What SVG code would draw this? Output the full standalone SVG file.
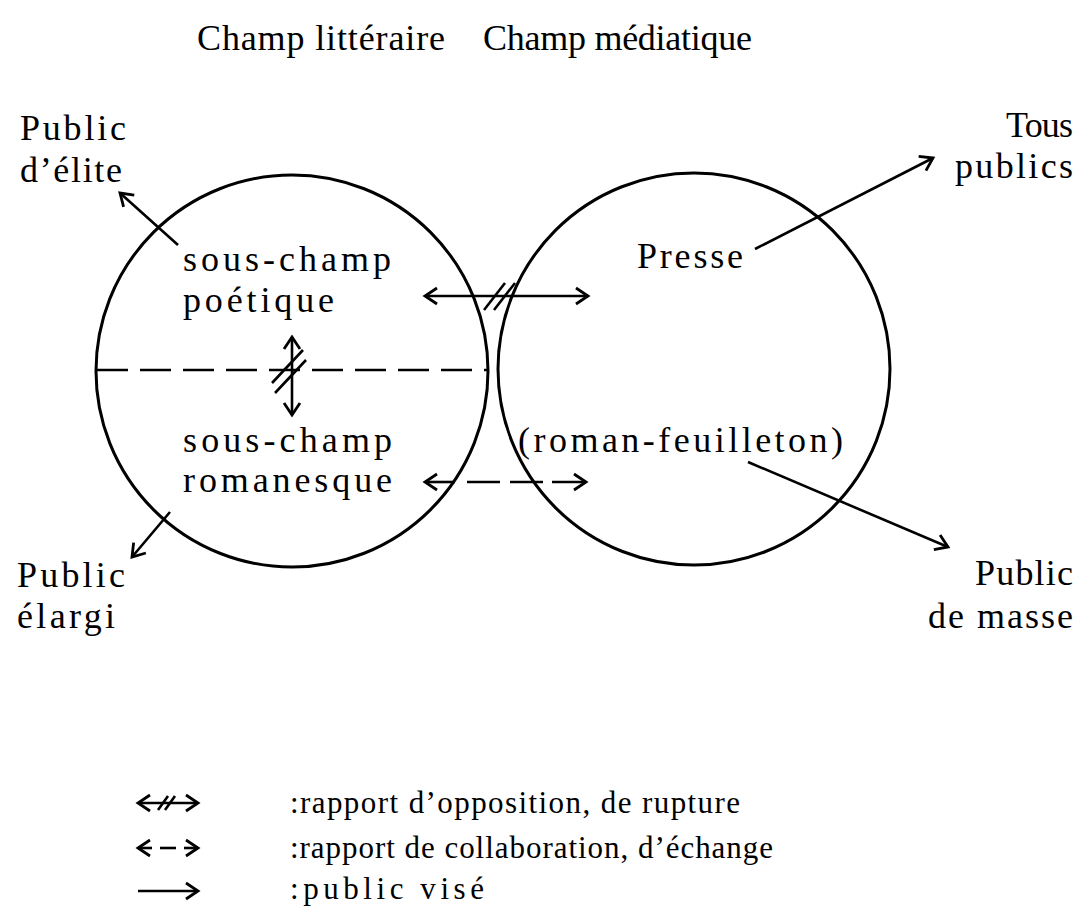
<svg xmlns="http://www.w3.org/2000/svg" width="1091" height="908" viewBox="0 0 1091 908">
<style>
text{font-family:"Liberation Serif","Times New Roman",serif;font-size:36px;fill:#000}
text.lg{font-size:31px}
.c{fill:none;stroke:#000;stroke-width:3}
.l{fill:none;stroke:#000;stroke-width:2.6}
.d{fill:none;stroke:#000;stroke-width:2.6;stroke-dasharray:31 12}
</style>
<defs>
<marker id="ah" markerUnits="userSpaceOnUse" markerWidth="20" markerHeight="20" refX="14" refY="10" orient="auto-start-reverse" viewBox="0 0 20 20">
<polyline points="2,2 14,10 2,18" fill="none" stroke="#000" stroke-width="2.8"/>
</marker>
</defs>
<rect width="1091" height="908" fill="#fff"/>
<g id="titles">
<text x="197" y="50" textLength="248" lengthAdjust="spacing">Champ littéraire</text>
<text x="483" y="50" textLength="269" lengthAdjust="spacing">Champ médiatique</text>
</g>
<g id="champ-litteraire">
<circle class="c" cx="292" cy="371" r="196"/>
<line class="d" x1="97" y1="370" x2="488" y2="370"/>
</g>
<g id="champ-mediatique">
<circle class="c" cx="694" cy="369" r="196"/>
</g>
<g id="sous-champ-poetique">
<text x="183" y="271" textLength="208" lengthAdjust="spacing">sous-champ</text>
<text x="183" y="312" textLength="151" lengthAdjust="spacing">poétique</text>
</g>
<g id="sous-champ-romanesque">
<text x="183" y="452" textLength="209" lengthAdjust="spacing">sous-champ</text>
<text x="183" y="492" textLength="209" lengthAdjust="spacing">romanesque</text>
</g>
<g id="presse">
<text x="637" y="268" textLength="106" lengthAdjust="spacing">Presse</text>
</g>
<g id="roman-feuilleton">
<text x="518" y="452" textLength="325" lengthAdjust="spacing">(roman-feuilleton)</text>
</g>
<g id="public-elite">
<text x="20" y="140" textLength="106" lengthAdjust="spacing">Public</text>
<text x="20" y="182" textLength="102" lengthAdjust="spacing">d’élite</text>
</g>
<g id="tous-publics">
<text x="1006" y="137" textLength="67" lengthAdjust="spacing">Tous</text>
<text x="955" y="178" textLength="118" lengthAdjust="spacing">publics</text>
</g>
<g id="public-elargi">
<text x="17" y="587" textLength="108" lengthAdjust="spacing">Public</text>
<text x="17" y="628" textLength="98" lengthAdjust="spacing">élargi</text>
</g>
<g id="public-masse">
<text x="975" y="585" textLength="98" lengthAdjust="spacing">Public</text>
<text x="928" y="628" textLength="145" lengthAdjust="spacing">de masse</text>
</g>
<g id="connectors">
<line class="l" x1="178" y1="245" x2="120" y2="193" marker-end="url(#ah)"/>
<line class="l" x1="170" y1="512" x2="132" y2="557" marker-end="url(#ah)"/>
<line class="l" x1="755" y1="249" x2="933" y2="158" marker-end="url(#ah)"/>
<line class="l" x1="748" y1="462" x2="948" y2="547" marker-end="url(#ah)"/>
<line class="l" x1="425" y1="296" x2="588" y2="296" marker-start="url(#ah)" marker-end="url(#ah)"/>
<line class="l" x1="484" y1="310" x2="505" y2="283"/>
<line class="l" x1="494" y1="310" x2="515" y2="283"/>
<line class="l" x1="292" y1="337" x2="292" y2="415" marker-start="url(#ah)" marker-end="url(#ah)"/>
<line class="l" x1="272" y1="383" x2="303" y2="350"/>
<line class="l" x1="275" y1="393" x2="306" y2="360"/>
<line class="l" x1="425" y1="482" x2="455" y2="482" marker-start="url(#ah)"/>
<line class="l" x1="467" y1="482" x2="500" y2="482"/>
<line class="l" x1="510" y1="482" x2="543" y2="482"/>
<line class="l" x1="552" y1="482" x2="586" y2="482" marker-end="url(#ah)"/>
</g>
<g id="legend">
<line class="l" x1="138" y1="803" x2="198" y2="803" marker-start="url(#ah)" marker-end="url(#ah)"/>
<line class="l" x1="158" y1="810" x2="168" y2="796"/>
<line class="l" x1="165" y1="810" x2="175" y2="796"/>
<line class="l" x1="138" y1="848" x2="152" y2="848" marker-start="url(#ah)"/>
<line class="l" x1="160" y1="848" x2="176" y2="848"/>
<line class="l" x1="184" y1="848" x2="198" y2="848" marker-end="url(#ah)"/>
<line class="l" x1="138" y1="891" x2="198" y2="891" marker-end="url(#ah)"/>
<text class="lg" x="290" y="813" textLength="450" lengthAdjust="spacing">:rapport d’opposition, de rupture</text>
<text class="lg" x="290" y="858" textLength="483" lengthAdjust="spacing">:rapport de collaboration, d’échange</text>
<text class="lg" x="290" y="899" textLength="194" lengthAdjust="spacing">:public visé</text>
</g>
</svg>
